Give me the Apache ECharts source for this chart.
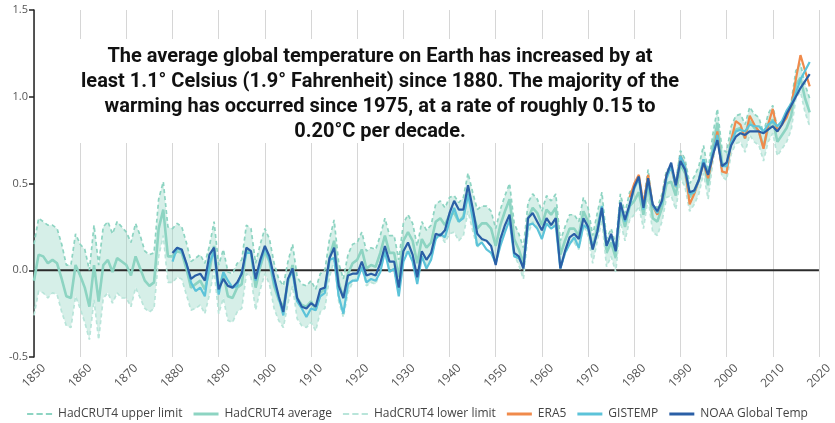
<!DOCTYPE html>
<html>
<head>
<meta charset="utf-8">
<script src="https://cdn.jsdelivr.net/npm/echarts@6/dist/echarts.min.js"></script>
<style>
  html, body { margin: 0; padding: 0; background: #ffffff; }
  #chart { width: 835px; height: 423px; }
</style>
</head>
<body>
<div id="chart"></div>
<script>
// Global temperature anomalies (°C, relative to the 1850–1900 average)
const yearTicks = [1850, 1860, 1870, 1880, 1890, 1900, 1910, 1920, 1930, 1940, 1950, 1960, 1970, 1980, 1990, 2000, 2010, 2020];
const tempTicks = [-0.5, 0.0, 0.5, 1.0, 1.5];

const hadStart = 1850;
const hadAvg = [
  -0.06, 0.09, 0.08, 0.04, 0.06, 0.04, -0.05, -0.15, -0.16, 0.03,
  -0.03, -0.10, -0.21, 0.03, -0.18, 0.03, 0.06, -0.01, 0.07, 0.05,
  0.03, -0.03, 0.08, 0.01, -0.06, -0.09, -0.07, 0.24, 0.35, 0.08,
  0.08, 0.11, 0.10, 0.01, -0.10, -0.08, -0.06, -0.11, 0.00, 0.14,
  -0.11, -0.02, -0.15, -0.16, -0.10, -0.08, 0.12, 0.10, -0.10, 0.02,
  0.11, 0.05, -0.09, -0.17, -0.21, -0.07, 0.03, -0.16, -0.20, -0.21,
  -0.18, -0.23, -0.13, -0.11, 0.07, 0.17, -0.07, -0.16, -0.02, 0.04,
  0.06, 0.12, 0.01, 0.03, 0.02, 0.10, 0.20, 0.10, 0.10, -0.04,
  0.17, 0.22, 0.17, 0.04, 0.18, 0.13, 0.16, 0.28, 0.30, 0.26,
  0.32, 0.33, 0.28, 0.31, 0.45, 0.34, 0.24, 0.27, 0.27, 0.24,
  0.14, 0.26, 0.34, 0.41, 0.18, 0.12, 0.04, 0.30, 0.36, 0.33,
  0.26, 0.35, 0.32, 0.36, 0.09, 0.17, 0.24, 0.24, 0.20, 0.34,
  0.28, 0.12, 0.25, 0.37, 0.10, 0.16, 0.07, 0.36, 0.25, 0.37,
  0.40, 0.45, 0.32, 0.50, 0.30, 0.28, 0.36, 0.50, 0.51, 0.43,
  0.61, 0.56, 0.42, 0.46, 0.52, 0.64, 0.49, 0.70, 0.85, 0.62,
  0.60, 0.75, 0.81, 0.82, 0.76, 0.86, 0.82, 0.80, 0.71, 0.82,
  0.87, 0.74, 0.78, 0.82, 0.89, 1.07, 1.11, 0.99, 0.91
];
const hadUpper = [
  0.15, 0.30, 0.28, 0.26, 0.26, 0.24, 0.15, 0.03, 0.03, 0.21,
  0.15, 0.12, 0.00, 0.26, 0.03, 0.25, 0.28, 0.21, 0.28, 0.25,
  0.22, 0.16, 0.27, 0.20, 0.11, 0.09, 0.10, 0.41, 0.51, 0.25,
  0.24, 0.27, 0.25, 0.16, 0.05, 0.07, 0.09, 0.04, 0.14, 0.28,
  0.03, 0.12, -0.01, -0.02, 0.04, 0.06, 0.26, 0.24, 0.04, 0.15,
  0.24, 0.18, 0.04, -0.05, -0.09, 0.05, 0.15, -0.04, -0.08, -0.09,
  -0.06, -0.11, -0.02, 0.00, 0.18, 0.29, 0.04, -0.05, 0.09, 0.15,
  0.16, 0.22, 0.11, 0.13, 0.12, 0.20, 0.30, 0.20, 0.20, 0.06,
  0.27, 0.32, 0.27, 0.14, 0.28, 0.23, 0.26, 0.38, 0.40, 0.36,
  0.42, 0.43, 0.39, 0.42, 0.56, 0.45, 0.35, 0.37, 0.37, 0.34,
  0.24, 0.35, 0.43, 0.50, 0.27, 0.21, 0.13, 0.39, 0.44, 0.41,
  0.34, 0.43, 0.40, 0.44, 0.17, 0.25, 0.32, 0.32, 0.28, 0.42,
  0.36, 0.20, 0.33, 0.45, 0.18, 0.24, 0.15, 0.44, 0.33, 0.45,
  0.48, 0.53, 0.40, 0.58, 0.38, 0.36, 0.44, 0.58, 0.59, 0.51,
  0.69, 0.64, 0.50, 0.54, 0.60, 0.72, 0.57, 0.78, 0.93, 0.70,
  0.68, 0.83, 0.89, 0.90, 0.84, 0.94, 0.90, 0.88, 0.79, 0.90,
  0.95, 0.82, 0.86, 0.90, 0.97, 1.15, 1.19, 1.07, 0.99
];
const hadLower = [
  -0.26, -0.12, -0.13, -0.16, -0.13, -0.14, -0.24, -0.32, -0.33, -0.15,
  -0.22, -0.30, -0.40, -0.17, -0.40, -0.16, -0.13, -0.19, -0.13, -0.16,
  -0.16, -0.21, -0.10, -0.16, -0.22, -0.24, -0.22, 0.08, 0.20, -0.07,
  -0.07, -0.04, -0.05, -0.14, -0.23, -0.22, -0.20, -0.25, -0.14, 0.00,
  -0.25, -0.16, -0.29, -0.30, -0.24, -0.22, -0.02, -0.04, -0.23, -0.11,
  -0.02, -0.08, -0.22, -0.29, -0.33, -0.19, -0.09, -0.28, -0.32, -0.33,
  -0.30, -0.35, -0.24, -0.22, -0.04, 0.06, -0.18, -0.27, -0.13, -0.07,
  -0.04, 0.02, -0.09, -0.07, -0.08, 0.00, 0.10, 0.00, 0.00, -0.14,
  0.07, 0.12, 0.07, -0.06, 0.08, 0.03, 0.06, 0.18, 0.20, 0.16,
  0.21, 0.22, 0.17, 0.20, 0.34, 0.23, 0.13, 0.17, 0.17, 0.14,
  0.04, 0.16, 0.25, 0.32, 0.09, 0.03, -0.05, 0.21, 0.28, 0.25,
  0.18, 0.27, 0.24, 0.28, 0.01, 0.09, 0.16, 0.16, 0.12, 0.26,
  0.20, 0.04, 0.17, 0.29, 0.02, 0.08, -0.01, 0.28, 0.17, 0.29,
  0.32, 0.37, 0.24, 0.42, 0.22, 0.20, 0.28, 0.42, 0.43, 0.35,
  0.53, 0.48, 0.34, 0.38, 0.44, 0.56, 0.41, 0.62, 0.77, 0.54,
  0.52, 0.67, 0.73, 0.74, 0.68, 0.78, 0.74, 0.72, 0.63, 0.74,
  0.79, 0.66, 0.70, 0.74, 0.81, 0.99, 1.03, 0.91, 0.83
];

const gisStart = 1880;
const gistemp = [
  0.05, 0.13, 0.11, 0.04, -0.07, -0.12, -0.10, -0.15, 0.04, 0.11,
  -0.14, -0.01, -0.06, -0.10, -0.09, -0.01, 0.10, 0.10, -0.06, 0.04,
  0.13, 0.06, -0.07, -0.16, -0.26, -0.05, -0.01, -0.18, -0.22, -0.27,
  -0.22, -0.23, -0.15, -0.13, 0.06, 0.07, -0.15, -0.25, -0.08, -0.06,
  -0.06, 0.02, -0.07, -0.05, -0.06, -0.01, 0.11, -0.01, 0.01, -0.15,
  0.05, 0.11, 0.05, -0.08, 0.08, 0.01, 0.06, 0.18, 0.21, 0.19,
  0.28, 0.36, 0.28, 0.30, 0.44, 0.30, 0.14, 0.16, 0.12, 0.10,
  0.04, 0.14, 0.22, 0.29, 0.08, 0.07, 0.02, 0.26, 0.27, 0.24,
  0.18, 0.27, 0.24, 0.26, 0.01, 0.10, 0.15, 0.19, 0.13, 0.26,
  0.24, 0.13, 0.22, 0.37, 0.14, 0.20, 0.11, 0.39, 0.28, 0.37,
  0.47, 0.53, 0.35, 0.52, 0.37, 0.33, 0.39, 0.53, 0.60, 0.48,
  0.66, 0.60, 0.44, 0.45, 0.52, 0.64, 0.55, 0.68, 0.78, 0.60,
  0.60, 0.74, 0.80, 0.81, 0.80, 0.84, 0.83, 0.83, 0.80, 0.84,
  0.86, 0.83, 0.86, 0.92, 0.96, 1.02, 1.10, 1.15, 1.20
];

const noaaStart = 1880;
const noaa = [
  0.10, 0.13, 0.12, 0.04, -0.05, -0.03, -0.02, -0.06, 0.09, 0.13,
  -0.11, -0.05, -0.09, -0.10, -0.07, -0.02, 0.13, 0.11, -0.05, 0.06,
  0.14, 0.08, -0.04, -0.15, -0.24, -0.05, 0.01, -0.16, -0.21, -0.22,
  -0.19, -0.21, -0.11, -0.10, 0.07, 0.13, -0.09, -0.16, -0.03, -0.02,
  -0.02, 0.05, -0.03, -0.02, -0.03, 0.04, 0.14, 0.05, 0.05, -0.10,
  0.11, 0.16, 0.09, -0.04, 0.11, 0.06, 0.10, 0.21, 0.20, 0.23,
  0.33, 0.40, 0.35, 0.35, 0.49, 0.36, 0.21, 0.18, 0.17, 0.14,
  0.03, 0.18, 0.26, 0.32, 0.10, 0.08, 0.01, 0.30, 0.33, 0.28,
  0.23, 0.30, 0.26, 0.30, 0.01, 0.11, 0.19, 0.21, 0.18, 0.30,
  0.25, 0.12, 0.22, 0.36, 0.14, 0.21, 0.11, 0.39, 0.29, 0.38,
  0.48, 0.54, 0.36, 0.53, 0.38, 0.34, 0.40, 0.55, 0.62, 0.49,
  0.63, 0.58, 0.45, 0.46, 0.52, 0.62, 0.55, 0.66, 0.75, 0.60,
  0.62, 0.72, 0.77, 0.79, 0.78, 0.80, 0.80, 0.80, 0.79, 0.81,
  0.83, 0.80, 0.84, 0.90, 0.95, 1.00, 1.05, 1.09, 1.13
];

const eraStart = 1979;
const era5 = [
  0.42,
  0.50, 0.55, 0.38, 0.55, 0.37, 0.32, 0.40, 0.55, 0.60, 0.48,
  0.66, 0.60, 0.38, 0.44, 0.52, 0.62, 0.53, 0.66, 0.80, 0.57,
  0.56, 0.75, 0.86, 0.84, 0.76, 0.89, 0.84, 0.80, 0.70, 0.84,
  0.93, 0.80, 0.84, 0.88, 0.95, 1.10, 1.24, 1.15, 1.06
];

const headline = [
  'The average global temperature on Earth has increased by at',
  'least 1.1° Celsius (1.9° Fahrenheit) since 1880. The majority of the',
  'warming has occurred since 1975, at a rate of roughly 0.15 to',
  '0.20°C per decade.'
];

const toPairs = (start, arr) => arr.map((v, i) => [start + i, v]);

const MINT = '#8dd4c2';
const MINT_LIGHT = '#b9e5da';
const BAND = 'rgba(146, 212, 194, 0.38)';
const DASH_ICON = 'path://M0,0h6v2h-6zM9,0h6v2h-6zM18,0h6v2h-6z';

const chart = echarts.init(document.getElementById('chart'), null, { renderer: 'canvas' });

const lineBase = {
  type: 'line',
  showSymbol: false,
  symbol: 'none',
  smooth: false,
  silent: true,
  animation: false
};

chart.setOption({
  animation: false,
  grid: { left: 34, right: 1, top: 10, bottom: 66, containLabel: false },
  legend: {
    bottom: 3,
    left: 'center',
    padding: 0,
    itemWidth: 25,
    itemHeight: 3,
    itemGap: 11,
    textStyle: { color: '#444', fontSize: 12, fontFamily: 'Open Sans', padding: [0, 0, 0, 1] },
    data: [
      { name: 'HadCRUT4 upper limit', icon: DASH_ICON },
      { name: 'HadCRUT4 average', icon: 'rect' },
      { name: 'HadCRUT4 lower limit', icon: DASH_ICON },
      { name: 'ERA5', icon: 'rect' },
      { name: 'GISTEMP', icon: 'rect' },
      { name: 'NOAA Global Temp', icon: 'rect' }
    ]
  },
  xAxis: {
    type: 'value',
    min: yearTicks[0],
    max: yearTicks[yearTicks.length - 1],
    interval: 10,
    axisLine: { show: false },
    axisTick: { show: false },
    splitLine: { show: true, lineStyle: { color: '#d6d6d6', width: 1 } },
    axisLabel: {
      rotate: 45,
      align: 'center',
      verticalAlign: 'middle',
      color: '#555',
      fontSize: 12,
      fontFamily: 'Open Sans',
      margin: 19,
      formatter: v => String(v)
    }
  },
  yAxis: {
    type: 'value',
    min: tempTicks[0],
    max: tempTicks[tempTicks.length - 1],
    interval: 0.5,
    axisLine: { show: true, lineStyle: { color: '#222', width: 1.5 } },
    axisTick: { show: true, length: 5, lineStyle: { color: '#222', width: 1.5 } },
    splitLine: { show: false },
    axisLabel: {
      color: '#555',
      fontSize: 11,
      fontFamily: 'Open Sans',
      margin: 6,
      formatter: v => v.toFixed(1)
    }
  },
  graphic: [
    {
      type: 'rect',
      z: 1,
      silent: true,
      shape: { x: 64, y: 39, width: 742, height: 104 },
      style: { fill: '#ffffff' }
    },
    {
      type: 'text',
      z: 1,
      silent: true,
      x: 380,
      y: 44,
      style: {
        text: headline.join('\n'),
        fill: '#111',
        font: 'bold 20px Roboto',
        lineHeight: 25,
        align: 'center',
        verticalAlign: 'top'
      }
    }
  ],
  series: [
    Object.assign({}, lineBase, {
      name: 'zeroLine',
      data: [[yearTicks[0], 0], [yearTicks[yearTicks.length - 1], 0]],
      lineStyle: { color: '#2b2b2b', width: 2 }
    }),
    {
      type: 'custom',
      name: 'bandFill',
      silent: true,
      animation: false,
      clip: true,
      data: [[hadStart, 0]],
      renderItem: (params, api) => {
        const top = hadUpper.map((v, i) => api.coord([hadStart + i, v]));
        const bottom = hadLower.map((v, i) => api.coord([hadStart + i, v])).reverse();
        return {
          type: 'polygon',
          shape: { points: top.concat(bottom) },
          style: { fill: BAND }
        };
      }
    },
    Object.assign({}, lineBase, {
      name: 'HadCRUT4 upper limit',
      data: toPairs(hadStart, hadUpper),
      itemStyle: { color: MINT },
      lineStyle: { color: MINT, width: 1.7, type: [4, 3] }
    }),
    Object.assign({}, lineBase, {
      name: 'HadCRUT4 average',
      data: toPairs(hadStart, hadAvg),
      itemStyle: { color: MINT },
      lineStyle: { color: MINT, width: 2.6 }
    }),
    Object.assign({}, lineBase, {
      name: 'HadCRUT4 lower limit',
      data: toPairs(hadStart, hadLower),
      itemStyle: { color: MINT_LIGHT },
      lineStyle: { color: MINT_LIGHT, width: 1.7, type: [4, 3] }
    }),
    Object.assign({}, lineBase, {
      name: 'ERA5',
      data: toPairs(eraStart, era5),
      itemStyle: { color: '#f08a4b' },
      lineStyle: { color: '#f08a4b', width: 2.2 }
    }),
    Object.assign({}, lineBase, {
      name: 'GISTEMP',
      data: toPairs(gisStart, gistemp),
      itemStyle: { color: '#5cc3d9' },
      lineStyle: { color: '#5cc3d9', width: 2.2 }
    }),
    Object.assign({}, lineBase, {
      name: 'NOAA Global Temp',
      data: toPairs(noaaStart, noaa),
      itemStyle: { color: '#2a5fa6' },
      lineStyle: { color: '#2a5fa6', width: 2.2 }
    })
  ]
});
</script>
</body>
</html>
